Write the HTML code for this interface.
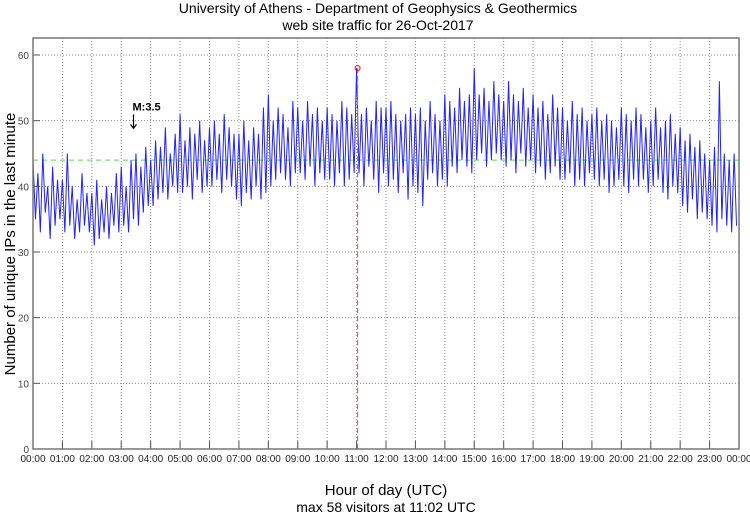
<!DOCTYPE html>
<html><head><meta charset="utf-8"><style>
body{margin:0;background:#fff;}
svg{display:block;font-family:"Liberation Sans",sans-serif;}
</style></head><body>
<svg id="chart" width="750" height="515" viewBox="0 0 750 515">
<text x="378" y="13" text-anchor="middle" font-size="14">University of Athens - Department of Geophysics &amp; Geothermics</text>
<text x="378" y="30" text-anchor="middle" font-size="14">web site traffic for 26-Oct-2017</text>
<text transform="translate(15,244) rotate(-90)" text-anchor="middle" font-size="15">Number of unique IPs in the last minute</text>
<text x="386" y="495" text-anchor="middle" font-size="15">Hour of day (UTC)</text>
<text x="386" y="512" text-anchor="middle" font-size="14">max 58 visitors at 11:02 UTC</text>
<g id="grid"></g>
<g id="series"></g>
<g id="axes"></g>
</svg>
<script>
const hourLabels=["00:00","01:00","02:00","03:00","04:00","05:00","06:00","07:00","08:00","09:00","10:00","11:00","12:00","13:00","14:00","15:00","16:00","17:00","18:00","19:00","20:00","21:00","22:00","23:00","00:00"];
const yTicks=[0,10,20,30,40,50,60];
const highs=[44,42,45,40,43,41, 41,45,40,38,42,39, 39,41,38,40,39,42, 43,40,44,45,43,46, 44,47,46,49,45,48, 51,47,49,48,50,47, 49,50,48,51,49,48, 48,50,47,49,48,52, 54,50,52,51,49,53, 52,50,53,51,52,50, 52,51,50,53,52,51, 58,51,52,50,53,52, 52,53,51,50,51,52, 51,52,50,53,51,50, 54,53,52,55,53,54, 58,54,55,53,56,54, 53,56,54,53,55,52, 54,52,53,51,54,52, 52,50,53,51,52,50, 51,52,50,51,50,49, 52,51,50,52,51,49, 50,52,49,50,51,48, 49,47,48,46,47,45, 44,46,56,45,44,45];
const lows=[35,33,36,32,34,35, 33,34,32,33,34,33, 31,32,33,32,34,33, 34,33,35,34,36,37, 37,38,39,38,40,39, 39,40,38,41,39,40, 40,41,39,41,40,38, 37,39,38,40,38,39, 40,41,42,41,40,42, 42,41,43,40,42,41, 41,40,42,40,41,42, 42,40,43,41,39,42, 40,41,39,42,38,40, 39,37,41,42,40,41, 40,43,42,44,43,42, 44,45,43,44,45,44, 43,44,42,45,43,44, 42,43,41,42,43,41, 41,42,40,41,40,42, 41,40,41,39,40,41, 40,39,41,40,41,39, 40,41,39,38,40,39, 37,36,38,35,36,35, 34,33,35,34,33,34];
const meanLevel=44;
const maxValue=58, maxMinute=662;
const quake={label:"M:3.5",minute:205,value:47};

const L=33,R=739,T=38,B=449;
const x=m=>L+(R-L)*m/1440;
const y=v=>B-(B-55)*v/60;
const NS="http://www.w3.org/2000/svg";
function mk(tag,attrs,parent){const e=document.createElementNS(NS,tag);for(const k in attrs)e.setAttribute(k,attrs[k]);parent.appendChild(e);return e;}
const grid=document.getElementById('grid'),axes=document.getElementById('axes'),series=document.getElementById('series');

hourLabels.forEach((lab,i)=>{
  const xx=x(i*60);
  if(i>0&&i<24){const g=mk('line',{x1:xx,x2:xx,y1:T,y2:B,stroke:'#888','stroke-width':1,'stroke-dasharray':'1,2'},grid);
  
  
  const t=mk('line',{x1:xx,x2:xx,y1:B-8,y2:B,stroke:'#555','stroke-width':1},axes);
  
  }
  const tx=mk('text',{x:xx,y:B+13,'text-anchor':'middle','font-size':10,fill:'#222'},axes);
  tx.textContent=lab;
  
  
});
yTicks.forEach(v=>{
  const yy=y(v);
  if(v>0){const g=mk('line',{x1:L,x2:R,y1:yy,y2:yy,stroke:'#888','stroke-width':1,'stroke-dasharray':'1,2'},grid);
  
  
  const t=mk('line',{x1:L,x2:L+7,y1:yy,y2:yy,stroke:'#555'},axes);
  
  }
  const tx=mk('text',{x:L-4,y:yy+4,'text-anchor':'end','font-size':10,fill:'#444'},axes);
  tx.textContent=v;
  
  
});
const frame=mk('rect',{x:L,y:T,width:R-L,height:B-T,fill:'none',stroke:'#777','stroke-width':1.5},axes);



const ml=mk('line',{x1:L,x2:R,y1:y(meanLevel),y2:y(meanLevel),stroke:'#5d5','stroke-width':1,'stroke-dasharray':'5,4'},series);



let pts=[];
const step=1440/highs.length;
highs.forEach((h,i)=>{
  pts.push(x(i*step)+','+y(h));
  pts.push(x(i*step+step/2)+','+y(lows[i]));
});
const pl=mk('polyline',{points:pts.join(' '),fill:'none',stroke:'#22f','stroke-width':1},series);



const vl=mk('line',{x1:x(maxMinute),x2:x(maxMinute),y1:y(maxValue),y2:B,stroke:'#d66','stroke-width':1.2,'stroke-dasharray':'5,3'},series);


const mc=mk('circle',{cx:x(maxMinute),cy:y(maxValue),r:2.5,fill:'none',stroke:'red','stroke-width':1},series);



const qx=x(quake.minute);
const qt=mk('text',{x:qx-1,y:y(quake.value)+(-30),'font-size':11,'font-weight':'bold'},series);
qt.textContent=quake.label;


const qa=mk('path',{d:`M${qx},${y(quake.value)-26} L${qx},${y(quake.value)-12} M${qx-3},${y(quake.value)-16} L${qx},${y(quake.value)-12} L${qx+3},${y(quake.value)-16}`,stroke:'#000',fill:'none','stroke-width':1.2},series);


</script>
</body></html>
